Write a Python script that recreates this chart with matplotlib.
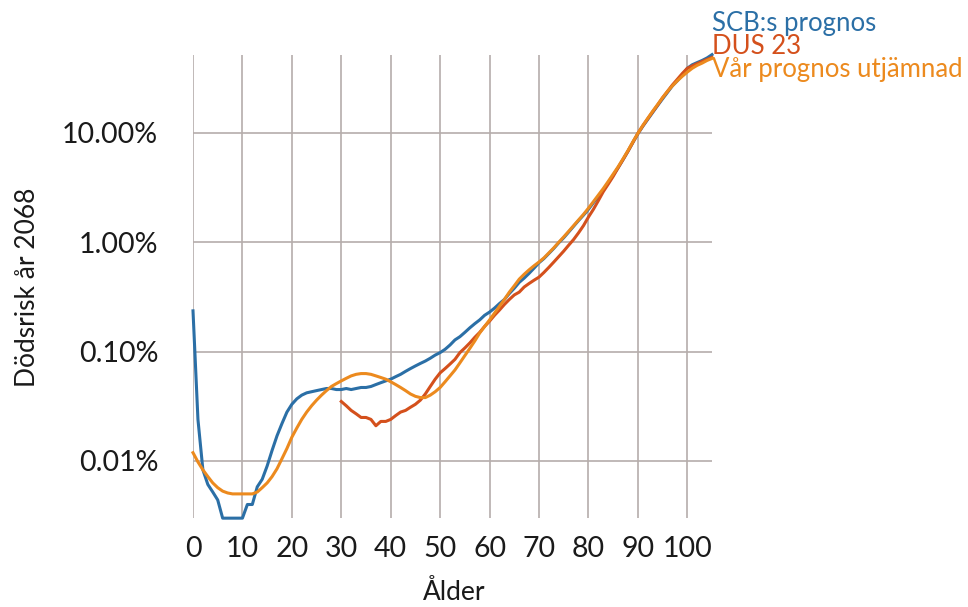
import matplotlib
matplotlib.use("Agg")
import matplotlib.pyplot as plt
from matplotlib.ticker import FixedLocator, FuncFormatter, NullLocator

plt.rcParams['font.family'] = ['Lato', 'DejaVu Sans']

ages_scb = list(range(0, 106))
scb = [0.236, 0.024, 0.0083, 0.0061, 0.0052, 0.0044, 0.0030, 0.0030, 0.0030, 0.0030,
       0.0030, 0.0040, 0.0040, 0.0058, 0.0068, 0.0090, 0.0125, 0.017, 0.022, 0.028,
       0.033, 0.037, 0.040, 0.042, 0.043, 0.044, 0.045, 0.046, 0.046, 0.045,
       0.045, 0.046, 0.045, 0.046, 0.047, 0.047, 0.048, 0.050, 0.052, 0.054,
       0.056, 0.059, 0.062, 0.066, 0.070, 0.074, 0.078, 0.082, 0.087, 0.093,
       0.098, 0.105, 0.115, 0.128, 0.137, 0.150, 0.165, 0.180, 0.195, 0.215,
       0.230, 0.250, 0.275, 0.30, 0.34, 0.38, 0.43, 0.47, 0.52, 0.58,
       0.65, 0.71, 0.79, 0.88, 0.99, 1.10, 1.24, 1.40, 1.58, 1.77,
       2.00, 2.3, 2.6, 3.0, 3.5, 4.1, 4.8, 5.7, 6.8, 8.2,
       9.8, 11.5, 13.3, 15.4, 17.8, 20.5, 23.5, 27, 30, 34,
       39, 42, 44, 46, 48.5, 52]

ages_dus = list(range(30, 106))
dus = [0.035, 0.032, 0.029, 0.027, 0.025, 0.025, 0.024, 0.021, 0.023, 0.023,
       0.024, 0.026, 0.028, 0.029, 0.031, 0.033, 0.036, 0.041, 0.048, 0.056,
       0.064, 0.070, 0.077, 0.085, 0.098, 0.108, 0.12, 0.135, 0.15, 0.17,
       0.19, 0.215, 0.24, 0.27, 0.30, 0.33, 0.35, 0.39, 0.42, 0.45,
       0.48, 0.53, 0.59, 0.66, 0.74, 0.83, 0.94, 1.06, 1.22, 1.42,
       1.70, 2.0, 2.4, 2.9, 3.4, 4.0, 4.8, 5.7, 6.8, 8.2,
       9.9, 11.6, 13.5, 15.6, 18, 21, 24, 27.5, 31, 35,
       39, 41, 43, 45, 47, 49]

ages_var = list(range(0, 106))
var = [0.0119, 0.0098, 0.0083, 0.0072, 0.0063, 0.0057, 0.0053, 0.0051, 0.0050, 0.0050,
       0.0050, 0.0050, 0.0050, 0.0052, 0.0057, 0.0063, 0.0072, 0.0085, 0.0105, 0.013,
       0.0165, 0.020, 0.024, 0.028, 0.032, 0.036, 0.040, 0.044, 0.048, 0.051,
       0.054, 0.057, 0.060, 0.062, 0.063, 0.063, 0.062, 0.060, 0.058, 0.056,
       0.053, 0.050, 0.047, 0.044, 0.041, 0.039, 0.038, 0.038, 0.040, 0.043,
       0.047, 0.053, 0.060, 0.068, 0.079, 0.092, 0.107, 0.125, 0.148, 0.17,
       0.195, 0.225, 0.26, 0.30, 0.35, 0.40, 0.46, 0.51, 0.56, 0.61,
       0.66, 0.72, 0.80, 0.89, 1.00, 1.12, 1.26, 1.42, 1.60, 1.80,
       2.05, 2.35, 2.7, 3.1, 3.6, 4.2, 4.9, 5.8, 6.9, 8.3,
       9.9, 11.7, 13.6, 15.8, 18.2, 21, 24, 27, 30, 33,
       36, 39, 41.5, 43.5, 46, 48]

series_labels = ["SCB:s prognos", "DUS 23", "Vår prognos utjämnad"]
x_ticks = [0, 10, 20, 30, 40, 50, 60, 70, 80, 90, 100]
y_ticks = [0.01, 0.1, 1, 10]

c_scb = "#2b6fa6"
c_dus = "#d4501c"
c_var = "#ec8a1e"
grid_c = "#b5adab"
text_c = "#1a1a1a"

fig = plt.figure(figsize=(9.68, 6.07), dpi=100)
ax = fig.add_axes([193/968, 1-518/607, (712-193)/968, (518-55)/607])
ax.set_yscale("log")
ax.set_xlim(0, 105)
ax.set_ylim(0.00301, 51.6)

for v in x_ticks:
    ax.axvline(v, color=grid_c, lw=1.2, zorder=0)
for v in y_ticks:
    ax.axhline(v, color=grid_c, lw=1.2, zorder=0)

ax.plot(ages_scb, scb, color=c_scb, lw=2.2, zorder=3, clip_on=False)
ax.plot(ages_dus, dus, color=c_dus, lw=2.2, zorder=4, clip_on=False)
ax.plot(ages_var, var, color=c_var, lw=2.2, zorder=5, clip_on=False)

for s in ax.spines.values():
    s.set_visible(False)
ax.xaxis.set_major_locator(FixedLocator(x_ticks))
ax.yaxis.set_major_locator(FixedLocator(y_ticks))
ax.yaxis.set_minor_locator(NullLocator())
ax.yaxis.set_major_formatter(FuncFormatter(lambda v, p: f"{v:.2f}%"))
ax.tick_params(axis="both", length=0, labelsize=20.5, colors=text_c)
ax.tick_params(axis="x", pad=13)
ax.tick_params(axis="y", pad=25)

ax.set_xlabel("Ålder", fontsize=19, color=text_c)
ax.set_ylabel("Dödsrisk år 2068", fontsize=19, color=text_c)
ax.xaxis.set_label_coords((454-193)/519, (518-592)/463)
ax.xaxis.label.set_va("center")
ax.yaxis.set_label_coords((28-193)/519, (518-287)/463)
ax.yaxis.label.set_va("center")

fig.text(712/968, 1-24/607, series_labels[0], color=c_scb, fontsize=18.5, va="center", ha="left")
fig.text(712/968, 1-47/607, series_labels[1], color=c_dus, fontsize=18.5, va="center", ha="left")
fig.text(712/968, 1-70/607, series_labels[2], color=c_var, fontsize=18.5, va="center", ha="left")

fig.savefig("out.png", dpi=100)
